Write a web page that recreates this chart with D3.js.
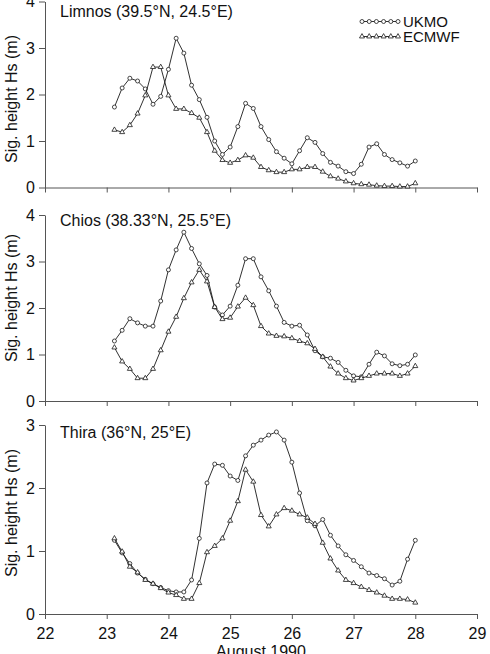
<!DOCTYPE html>
<html>
<head>
<meta charset="utf-8">
<script src="https://cdn.jsdelivr.net/npm/d3@7"></script>
<style>
  html, body { margin: 0; padding: 0; background: #fff; }
  svg { display: block; }
  text { font-family: "Liberation Sans", Arial, sans-serif; fill: #111; }
</style>
</head>
<body>
<svg id="chart" width="490" height="654"></svg>
<script>
// Time axis: days of August 1990 (3-hourly)
const times = [23.125, 23.25, 23.375, 23.5, 23.625, 23.75, 23.875, 24.0,
  24.125, 24.25, 24.375, 24.5, 24.625, 24.75, 24.875, 25.0,
  25.125, 25.25, 25.375, 25.5, 25.625, 25.75, 25.875, 26.0,
  26.125, 26.25, 26.375, 26.5, 26.625, 26.75, 26.875, 27.0,
  27.125, 27.25, 27.375, 27.5, 27.625, 27.75, 27.875, 28.0];

const xTicks = [22, 23, 24, 25, 26, 27, 28, 29];
const seriesNames = ["UKMO", "ECMWF"];
const stationNames = ["Limnos (39.5°N, 24.5°E)", "Chios (38.33°N, 25.5°E)", "Thira (36°N, 25°E)"];

const limnosUKMO = [1.73, 2.14, 2.35, 2.29, 2.12, 1.79, 1.96, 2.54, 3.21, 2.89,
  2.20, 1.89, 1.51, 1.00, 0.71, 0.87, 1.31, 1.81, 1.70, 1.31,
  1.03, 0.77, 0.63, 0.51, 0.79, 1.07, 0.97, 0.73, 0.54, 0.46,
  0.34, 0.30, 0.50, 0.87, 0.94, 0.71, 0.60, 0.53, 0.46, 0.57];
const limnosECMWF = [1.24, 1.19, 1.34, 1.59, 1.98, 2.59, 2.59, 1.98, 1.69, 1.69,
  1.60, 1.50, 1.19, 0.79, 0.59, 0.53, 0.59, 0.69, 0.64, 0.44,
  0.37, 0.33, 0.33, 0.39, 0.39, 0.44, 0.44, 0.34, 0.24, 0.19,
  0.13, 0.09, 0.07, 0.06, 0.04, 0.03, 0.03, 0.02, 0.02, 0.09];

const chiosUKMO = [1.29, 1.52, 1.77, 1.68, 1.61, 1.61, 2.15, 2.82, 3.25, 3.63,
  3.28, 2.95, 2.70, 2.02, 1.85, 2.04, 2.49, 3.06, 3.06, 2.67,
  2.37, 2.04, 1.69, 1.61, 1.63, 1.42, 1.08, 0.95, 0.92, 0.83,
  0.66, 0.54, 0.52, 0.79, 1.05, 0.97, 0.80, 0.76, 0.79, 0.99];
const chiosECMWF = [1.15, 0.85, 0.69, 0.49, 0.49, 0.69, 1.09, 1.49, 1.81, 2.21,
  2.55, 2.82, 2.57, 2.02, 1.76, 1.79, 2.03, 2.22, 2.06, 1.61,
  1.45, 1.40, 1.39, 1.35, 1.29, 1.24, 1.12, 0.95, 0.74, 0.59,
  0.49, 0.44, 0.49, 0.54, 0.59, 0.59, 0.59, 0.54, 0.59, 0.75];

const thiraUKMO = [1.17, 0.97, 0.80, 0.65, 0.55, 0.48, 0.42, 0.37, 0.35, 0.35,
  0.54, 1.20, 2.08, 2.38, 2.36, 2.19, 2.12, 2.51, 2.68, 2.76,
  2.84, 2.89, 2.76, 2.41, 1.92, 1.48, 1.40, 1.50, 1.25, 1.08,
  0.94, 0.85, 0.75, 0.65, 0.61, 0.56, 0.46, 0.52, 0.87, 1.17];
const thiraECMWF = [1.20, 0.99, 0.75, 0.66, 0.54, 0.48, 0.41, 0.34, 0.30, 0.24,
  0.24, 0.49, 0.98, 1.08, 1.20, 1.48, 1.79, 2.29, 2.10, 1.57,
  1.39, 1.58, 1.68, 1.64, 1.58, 1.53, 1.43, 1.13, 0.88, 0.69,
  0.54, 0.49, 0.43, 0.38, 0.34, 0.29, 0.24, 0.24, 0.23, 0.18];

const yMaxes = [4, 4, 3];
const yTicks1 = [0, 1, 2, 3, 4];
const yTicks2 = [0, 1, 2, 3, 4];
const yTicks3 = [0, 1, 2, 3];

// Layout (pixels)
const panels = [
  { top: 1.5, bottom: 187.5, ukmo: limnosUKMO, ecmwf: limnosECMWF, ticks: yTicks1, titleY: 17, labelY: 99 },
  { top: 215, bottom: 401, ukmo: chiosUKMO, ecmwf: chiosECMWF, ticks: yTicks2, titleY: 226, labelY: 298 },
  { top: 425, bottom: 614, ukmo: thiraUKMO, ecmwf: thiraECMWF, ticks: yTicks3, titleY: 438, labelY: 513 }
];

const svg = d3.select("#chart");
const x = d3.scaleLinear().domain([22, 29]).range([45, 477]);
const ink = "#1a1a1a";

const triPath = d3.symbol().type(d3.symbolTriangle).size(11)();

panels.forEach((p, i) => {
  const y = d3.scaleLinear().domain([0, yMaxes[i]]).range([p.bottom, p.top]);
  const g = svg.append("g");

  // X axis
  const xa = g.append("g").attr("transform", `translate(0,${p.bottom})`)
    .call(d3.axisBottom(x).tickValues(xTicks).tickSize(5).tickSizeOuter(0)
      .tickFormat(i === 2 ? d3.format("d") : ""));
  xa.select(".domain").attr("stroke", "#555").attr("stroke-width", 1);
  xa.selectAll(".tick line").attr("stroke", "#555");
  xa.selectAll("text").attr("font-size", 16).attr("font-family", "Liberation Sans, Arial, sans-serif")
    .attr("fill", ink).attr("dy", "1.05em");

  // Y axis
  const ya = g.append("g").attr("transform", `translate(${x(22)},0)`)
    .call(d3.axisLeft(y).tickValues(p.ticks).tickSize(6).tickSizeOuter(0).tickFormat(d3.format("d")));
  ya.select(".domain").attr("stroke", "#555").attr("stroke-width", 1);
  ya.selectAll(".tick line").attr("stroke", "#555");
  ya.selectAll("text").attr("font-size", 16).attr("font-family", "Liberation Sans, Arial, sans-serif")
    .attr("fill", ink).attr("x", -10);

  // Y label
  g.append("text")
    .attr("transform", `translate(17,${p.labelY}) rotate(-90)`)
    .attr("text-anchor", "middle")
    .attr("font-size", 16)
    .text("Sig. height Hs (m)");

  // Title
  g.append("text").attr("x", 60).attr("y", p.titleY).attr("font-size", 16).text(stationNames[i]);

  const line = d3.line().x((d, k) => x(times[k])).y(d => y(d));

  // UKMO
  g.append("path").datum(p.ukmo).attr("d", line)
    .attr("fill", "none").attr("stroke", ink).attr("stroke-width", 0.9);
  g.selectAll("circle.uk").data(p.ukmo).enter().append("circle")
    .attr("class", "uk")
    .attr("cx", (d, k) => x(times[k])).attr("cy", d => y(d)).attr("r", 2)
    .attr("fill", "#fff").attr("stroke", ink).attr("stroke-width", 0.8);

  // ECMWF
  g.append("path").datum(p.ecmwf).attr("d", line)
    .attr("fill", "none").attr("stroke", ink).attr("stroke-width", 0.9);
  g.selectAll("path.ec").data(p.ecmwf).enter().append("path")
    .attr("class", "ec")
    .attr("d", triPath)
    .attr("transform", (d, k) => `translate(${x(times[k])},${y(d)})`)
    .attr("fill", "#fff").attr("stroke", ink).attr("stroke-width", 0.8);
});

// Legend in top panel
const legend = svg.append("g");
const legX0 = 362, legX1 = 398;
const legMarks = [0, 1, 2, 3, 4, 5];
[21.5, 36.5].forEach((ly, si) => {
  legend.append("line").attr("x1", legX0).attr("x2", legX1).attr("y1", ly).attr("y2", ly)
    .attr("stroke", ink).attr("stroke-width", 0.9);
  legMarks.forEach(m => {
    const cx = legX0 + m * (legX1 - legX0) / 5;
    if (si === 0) {
      legend.append("circle").attr("cx", cx).attr("cy", ly).attr("r", 2)
        .attr("fill", "#fff").attr("stroke", ink).attr("stroke-width", 0.8);
    } else {
      legend.append("path").attr("d", triPath).attr("transform", `translate(${cx},${ly})`)
        .attr("fill", "#fff").attr("stroke", ink).attr("stroke-width", 0.8);
    }
  });
  legend.append("text").attr("x", 403).attr("y", ly + 5.3).attr("font-size", 15).text(seriesNames[si]);
});

// X axis title
svg.append("text").attr("x", 261).attr("y", 657).attr("text-anchor", "middle")
  .attr("font-size", 16).text("August 1990");
</script>
</body>
</html>
